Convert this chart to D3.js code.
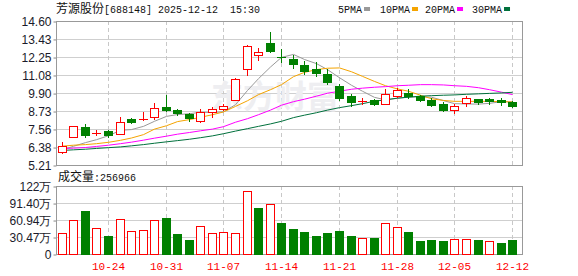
<!DOCTYPE html>
<html>
<head>
<meta charset="utf-8">
<script src="https://cdn.jsdelivr.net/npm/d3@7"></script>
<style>
  body { margin: 0; background: #fff; }
  svg { display: block; }
</style>
</head>
<body>
<svg id="chart"></svg>
<script>
// trading days shown (40)
const dates = [
  '10-20', '10-21', '10-22', '10-23', '10-24',
  '10-27', '10-28', '10-29', '10-30', '10-31',
  '11-03', '11-04', '11-05', '11-06', '11-07',
  '11-10', '11-11', '11-12', '11-13', '11-14',
  '11-17', '11-18', '11-19', '11-20', '11-21',
  '11-24', '11-25', '11-26', '11-27', '11-28',
  '12-01', '12-02', '12-03', '12-04', '12-05',
  '12-08', '12-09', '12-10', '12-11', '12-12',
];

const openPrices = [
  6.06, 7.04, 7.71, 7.24, 7.40, 7.23, 8.19, 8.15, 8.34, 9.01,
  8.80, 8.54, 8.06, 8.64, 8.86, 9.45, 11.47, 12.38, 13.14, 12.26,
  12.14, 11.75, 11.49, 11.12, 10.38, 9.73, 9.36, 9.47, 9.19, 9.71,
  9.93, 9.73, 9.42, 9.16, 8.80, 9.25, 9.52, 9.52, 9.47, 9.34,
];
const closePrices = [
  6.45, 7.76, 7.14, 7.28, 7.14, 8.01, 8.03, 8.18, 8.93, 8.77,
  8.58, 8.28, 8.67, 8.86, 9.03, 10.84, 12.94, 12.55, 12.62, 12.21,
  11.77, 11.31, 11.21, 10.64, 9.58, 9.29, 9.40, 9.19, 9.84, 10.10,
  9.68, 9.42, 9.10, 8.77, 9.08, 9.58, 9.35, 9.38, 9.29, 9.03,
];
const highPrices = [
  6.73, 7.78, 7.86, 7.50, 7.47, 8.36, 8.30, 8.67, 9.25, 9.80,
  8.86, 8.62, 8.88, 9.00, 9.19, 10.86, 13.01, 12.84, 13.87, 12.79,
  12.36, 11.97, 11.95, 11.49, 10.51, 9.84, 9.58, 9.50, 10.17, 10.25,
  10.17, 9.76, 9.55, 9.29, 9.21, 9.69, 9.53, 9.55, 9.58, 9.40,
];
const lowPrices = [
  6.02, 7.02, 7.01, 7.16, 7.01, 7.20, 7.92, 8.13, 8.21, 8.75,
  8.46, 8.10, 8.02, 8.36, 8.77, 9.43, 11.05, 12.06, 12.57, 11.95,
  11.51, 11.15, 10.99, 10.49, 9.47, 9.03, 9.19, 9.15, 9.17, 9.65,
  9.60, 9.40, 9.03, 8.75, 8.58, 9.03, 9.19, 9.20, 9.14, 8.97,
];

// volume in 万 (10k)
const volumes = [
  38.5, 60.9, 77.5, 46.7, 33.1, 62.7, 41.4, 43.2, 60.9, 65.1,
  36.7, 24.9, 50.3, 37.9, 39.6, 38.5, 112.4, 82.8, 89.9, 56.2,
  45.6, 40.2, 33.1, 38.5, 42.0, 31.4, 29.0, 29.6, 56.2, 49.1,
  40.2, 22.5, 24.3, 22.5, 27.2, 27.2, 24.3, 22.5, 18.9, 25.7,
];

const ma5 = [
  6.21, 6.43, 6.67, 6.86, 7.12, 7.47, 7.52, 7.73, 8.06, 8.38,
  8.50, 8.55, 8.65, 8.63, 8.68, 9.14, 10.07, 10.84, 11.60, 12.23,
  12.42, 12.09, 11.82, 11.43, 10.90, 10.41, 10.02, 9.62, 9.46, 9.56,
  9.64, 9.65, 9.63, 9.41, 9.21, 9.19, 9.18, 9.23, 9.34, 9.33,
];
const ma10 = [
  6.44, 6.50, 6.54, 6.60, 6.69, 6.82, 6.97, 7.19, 7.55, 7.77,
  8.04, 8.17, 8.32, 8.49, 8.67, 9.03, 9.40, 9.80, 10.12, 10.45,
  10.97, 11.25, 11.43, 11.52, 11.54, 11.29, 10.99, 10.66, 10.38, 10.17,
  10.02, 9.76, 9.53, 9.42, 9.36, 9.36, 9.36, 9.36, 9.34, 9.32,
];
const ma20 = [
  6.28, 6.31, 6.35, 6.42, 6.50, 6.60, 6.70, 6.83, 6.96, 7.09,
  7.22, 7.33, 7.44, 7.55, 7.71, 8.00, 8.23, 8.49, 8.79, 9.11,
  9.34, 9.50, 9.70, 9.89, 10.02, 10.15, 10.22, 10.28, 10.32, 10.38,
  10.41, 10.45, 10.45, 10.43, 10.38, 10.34, 10.25, 10.12, 9.96, 9.80,
];
const ma30 = [
  6.16, 6.20, 6.24, 6.29, 6.34, 6.39, 6.46, 6.54, 6.63, 6.72,
  6.80, 6.89, 6.99, 7.11, 7.25, 7.42, 7.58, 7.73, 7.89, 8.06,
  8.30, 8.46, 8.62, 8.79, 8.95, 9.08, 9.21, 9.37, 9.46, 9.57,
  9.63, 9.70, 9.73, 9.76, 9.78, 9.82, 9.85, 9.88, 9.91, 9.95,
];

const priceTicks = [5.21, 6.38, 7.56, 8.73, 9.90, 11.08, 12.25, 13.43, 14.60];
const volTicks = [0, 30.47, 60.94, 91.40, 122];
const volTickLabels = ['0', '30.47万', '60.94万', '91.40万', '122万'];
const dateTicks = ['10-24', '10-31', '11-07', '11-14', '11-21', '11-28', '12-05', '12-12'];
const maNames = ['5PMA', '10PMA', '20PMA', '30PMA'];

const stockName = '芳源股份';
const stockCode = '[688148] 2025-12-12  15:30';
const lastVolume = '256966';

const RED = '#ff0000';
const GREEN = '#008000';
const maColors = ['#999999', '#f5a400', '#ff00ff', '#00703c'];
const maValues = [ma5, ma10, ma20, ma30];

const width = 578;
const height = 276;
const plotLeft = 56;
const plotRight = 522;
const main = { top: 21, bottom: 165 };
const vol = { top: 186, bottom: 254 };

const svg = d3.select('#chart').attr('width', width).attr('height', height);
svg.append('rect').attr('width', width).attr('height', height).attr('fill', '#fff');

const x = d3.scaleBand().domain(dates).range([plotLeft, plotLeft + 462]);
const cx = (d) => Math.round(x(d) + x.bandwidth() / 2);

const y = d3.scaleLinear().domain([5.21, 14.6]).range([main.bottom, main.top]);
const yv = d3.scaleLinear().domain([0, 122]).range([vol.bottom, vol.top]);

const axisFont = '"Liberation Sans", Arial, sans-serif';
const cjkFont = '"Noto Sans CJK SC", sans-serif';
const monoFont = '"Liberation Mono", "DejaVu Sans Mono", monospace';

// ---- grids
function drawGrid(scale, ticks, top, bottom) {
  const g = svg.append('g');
  g.selectAll('line.h')
    .data(ticks)
    .enter()
    .append('line')
    .attr('x1', plotLeft)
    .attr('x2', plotRight)
    .attr('y1', (d) => Math.round(scale(d)) + 0.5)
    .attr('y2', (d) => Math.round(scale(d)) + 0.5)
    .attr('stroke', '#cfcfcf');
  g.selectAll('line.v')
    .data(dateTicks)
    .enter()
    .append('line')
    .attr('x1', (d) => cx(d) + 0.5)
    .attr('x2', (d) => cx(d) + 0.5)
    .attr('y1', top)
    .attr('y2', bottom)
    .attr('stroke', '#c8c8c8')
    .attr('stroke-dasharray', '4,3');
}
drawGrid(y, priceTicks, main.top, main.bottom);
drawGrid(yv, volTicks, vol.top, vol.bottom);

// watermark
svg.append('text')
  .attr('x', 275)
  .attr('y', 108)
  .attr('text-anchor', 'middle')
  .attr('font-family', cjkFont)
  .attr('font-size', 32)
  .attr('font-weight', 'bold')
  .attr('fill', '#eeeef1')
  .text('东方财富');

// ---- axes
const yAxis = d3.axisLeft(y)
  .tickValues(priceTicks)
  .tickSize(3)
  .tickPadding(2)
  .tickFormat((d) => d.toFixed(2));
const gy = svg.append('g').attr('transform', `translate(${plotLeft + 0.5},0.5)`).call(yAxis);

const vAxis = d3.axisLeft(yv)
  .tickValues(volTicks)
  .tickSize(3)
  .tickPadding(2)
  .tickFormat((d, i) => volTickLabels[i]);
const gv = svg.append('g').attr('transform', `translate(${plotLeft + 0.5},0.5)`).call(vAxis);

[gy, gv].forEach((g) => {
  g.select('.domain').remove();
  g.selectAll('line').attr('stroke', '#888');
  g.selectAll('text')
    .attr('fill', '#1a1a2a')
    .attr('font-family', axisFont)
    .attr('font-size', 12);
});

// frames
[main, vol].forEach((p) => {
  svg.append('rect')
    .attr('x', plotLeft + 0.5)
    .attr('y', p.top + 0.5)
    .attr('width', plotRight - plotLeft)
    .attr('height', p.bottom - p.top)
    .attr('fill', 'none')
    .attr('stroke', '#999');
});

// ---- moving averages
maValues.forEach((vals, k) => {
  const line = d3.line()
    .x((v, i) => cx(dates[i]) + 0.5)
    .y((v) => y(v));
  svg.append('path')
    .datum(vals)
    .attr('d', line)
    .attr('fill', 'none')
    .attr('stroke', maColors[k])
    .attr('stroke-width', 1);
});

// ---- candles
const candles = dates.map((d, i) => ({
  date: d,
  open: openPrices[i],
  close: closePrices[i],
  high: highPrices[i],
  low: lowPrices[i],
}));

const cg = svg.append('g');
candles.forEach((c) => {
  const up = c.close >= c.open;
  const color = up ? RED : GREEN;
  const px = cx(c.date);
  const top = Math.round(y(Math.max(c.open, c.close)));
  const bot = Math.round(y(Math.min(c.open, c.close)));

  cg.append('line')
    .attr('x1', px + 0.5)
    .attr('x2', px + 0.5)
    .attr('y1', Math.round(y(c.high)))
    .attr('y2', Math.round(y(c.low)) + 1)
    .attr('stroke', color);

  if (bot - top < 2) {
    cg.append('rect')
      .attr('x', px - 4)
      .attr('y', top)
      .attr('width', 9)
      .attr('height', Math.max(1, bot - top))
      .attr('fill', color);
  } else if (up) {
    cg.append('rect')
      .attr('x', px - 3.5)
      .attr('y', top + 0.5)
      .attr('width', 8)
      .attr('height', bot - top)
      .attr('fill', '#fff')
      .attr('stroke', color);
  } else {
    cg.append('rect')
      .attr('x', px - 4)
      .attr('y', top)
      .attr('width', 9)
      .attr('height', bot - top + 1)
      .attr('fill', color);
  }
});

// ---- volume bars (colour by close vs previous close)
const vg = svg.append('g');
volumes.forEach((v, i) => {
  const up = i === 0 || closePrices[i] >= closePrices[i - 1];
  const px = cx(dates[i]);
  const top = Math.round(yv(v));
  const bot = Math.round(yv(0));
  if (up) {
    vg.append('rect')
      .attr('x', px - 3.5)
      .attr('y', top + 0.5)
      .attr('width', 8)
      .attr('height', bot - top)
      .attr('fill', '#fff')
      .attr('stroke', RED);
  } else {
    vg.append('rect')
      .attr('x', px - 4)
      .attr('y', top)
      .attr('width', 9)
      .attr('height', bot - top + 1)
      .attr('fill', GREEN);
  }
});

// ---- date labels
svg.append('g')
  .selectAll('text')
  .data(dateTicks)
  .enter()
  .append('text')
  .attr('x', (d) => cx(d) + 0.5)
  .attr('y', 270)
  .attr('text-anchor', 'middle')
  .attr('font-family', monoFont)
  .attr('font-size', 11)
  .attr('fill', RED)
  .text((d) => d);

// ---- title
const title = svg.append('text').attr('x', 56).attr('y', 13).attr('fill', '#111');
title.append('tspan').attr('font-family', cjkFont).attr('font-size', 12).text(stockName);
title.append('tspan').attr('font-family', monoFont).attr('font-size', 10).attr('xml:space', 'preserve').text(stockCode);

// volume caption
const vcap = svg.append('text').attr('x', 58).attr('y', 181).attr('fill', '#111');
vcap.append('tspan').attr('font-family', cjkFont).attr('font-size', 12).text('成交量');
vcap.append('tspan').attr('font-family', monoFont).attr('font-size', 10).text(':' + lastVolume);

// ---- legend
const legendX = [338, 380, 425, 472];
const legend = svg.append('g');
maNames.forEach((name, k) => {
  const t = legend.append('text')
    .attr('x', legendX[k])
    .attr('y', 13)
    .attr('font-family', monoFont)
    .attr('font-size', 10)
    .attr('fill', '#111')
    .text(name);
  const w = t.node().getComputedTextLength();
  legend.append('rect')
    .attr('x', legendX[k] + w + 2)
    .attr('y', 7)
    .attr('width', 6)
    .attr('height', 4)
    .attr('fill', maColors[k]);
});
</script>
</body>
</html>
